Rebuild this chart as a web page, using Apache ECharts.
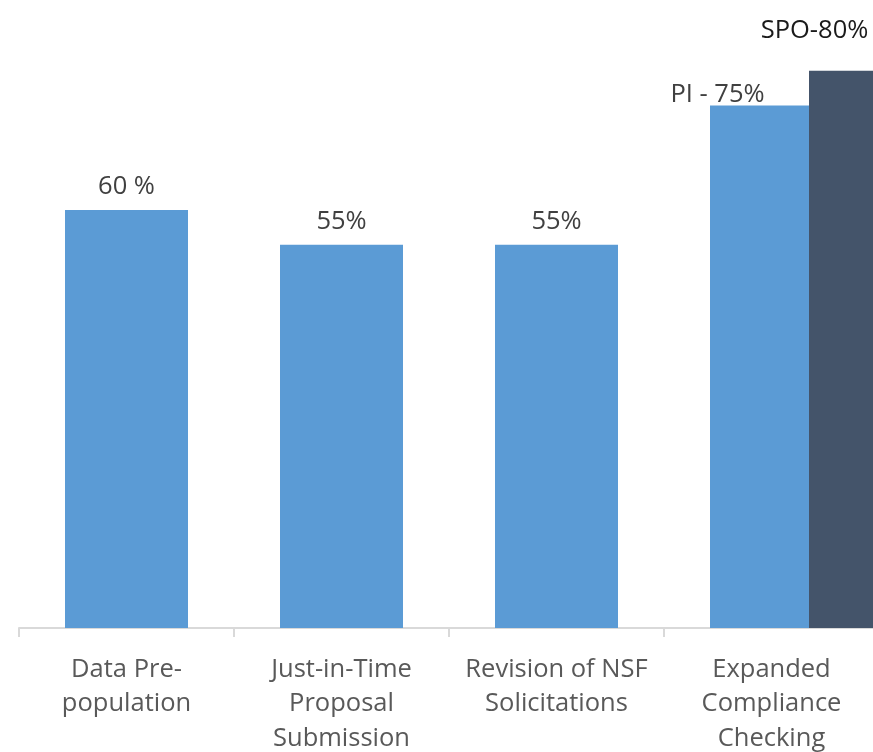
<!DOCTYPE html>
<html>
<head>
<meta charset="utf-8">
<script src="https://cdn.jsdelivr.net/npm/echarts@6/dist/echarts.min.js"></script>
<style>
html,body{margin:0;padding:0;background:#fff;}
#chart{width:873px;height:752px;}
</style>
</head>
<body>
<div id="chart"></div>
<script>
var categories = ["Data Pre-\npopulation", "Just-in-Time\nProposal\nSubmission", "Revision of NSF\nSolicitations", "Expanded\nCompliance\nChecking"];
var piValues = [60, 55, 55, 75];
var piLabels = ["60 %", "55%", "55%", "PI - 75%"];
var spoValues = [null, null, null, 80];
var spoLabels = ["", "", "", "SPO-80%"];

var FONT = "'Open Sans', 'DejaVu Sans', sans-serif";
var chart = echarts.init(document.getElementById('chart'));

var piData = piValues.map(function (v, i) {
  var item = { value: v };
  if (i === 3) {
    item.label = { offset: [-54, 12] };
  }
  return item;
});
var spoData = spoValues.map(function (v, i) {
  return v === null ? null : { value: v, label: { offset: [-56, -17] } };
});

chart.setOption({
  animation: false,
  backgroundColor: '#ffffff',
  grid: [
    { left: 19, width: 860, top: 1, height: 627, containLabel: false, outerBoundsMode: 'none' },
    { left: 118, width: 860, top: 1, height: 627, containLabel: false, outerBoundsMode: 'none' }
  ],
  xAxis: [
    {
      type: 'category', gridIndex: 0, data: categories,
      offset: 1,
      axisLine: { show: true, lineStyle: { color: '#d9d9d9', width: 2 } },
      axisTick: { show: true, alignWithLabel: false, length: 9, lineStyle: { color: '#d9d9d9', width: 2 } },
      axisLabel: { interval: 0, margin: 23, color: '#595959', fontSize: 25.5, lineHeight: 34.5, fontFamily: FONT, hideOverlap: false },
      splitLine: { show: false }
    },
    {
      type: 'category', gridIndex: 1, data: categories, show: false
    }
  ],
  yAxis: [
    { type: 'value', gridIndex: 0, min: 0, max: 90, show: false, splitLine: { show: false } },
    { type: 'value', gridIndex: 1, min: 0, max: 90, show: false, splitLine: { show: false } }
  ],
  series: [
    {
      name: 'PI', type: 'bar', xAxisIndex: 0, yAxisIndex: 0,
      data: piData, barWidth: 123,
      itemStyle: { color: '#5b9bd5' },
      label: {
        show: true, position: 'top', distance: 10,
        fontFamily: FONT, fontSize: 25.5, color: '#404040',
        formatter: function (p) { return piLabels[p.dataIndex]; }
      },
      z: 2
    },
    {
      name: 'SPO', type: 'bar', xAxisIndex: 1, yAxisIndex: 1,
      data: spoData, barWidth: 123,
      itemStyle: { color: '#44546a' },
      label: {
        show: true, position: 'top', distance: 10,
        fontFamily: FONT, fontSize: 25.5, color: '#1a1a1a',
        formatter: function (p) { return spoLabels[p.dataIndex]; }
      },
      z: 3
    }
  ]
});
</script>
</body>
</html>
